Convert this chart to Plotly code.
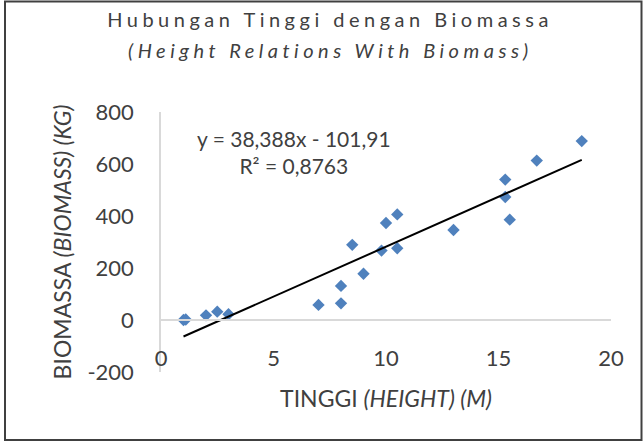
import plotly.graph_objects as go

# ---- data ----
height_m = [1.0, 1.1, 2.0, 2.5, 3.0, 7.0, 8.0, 8.0, 8.5, 9.0,
            9.8, 10.0, 10.5, 10.5, 13.0, 15.3, 15.3, 15.5, 16.7, 18.7]
biomass_kg = [0, 2, 18, 32, 22, 58, 64, 131, 289, 178,
              267, 373, 406, 276, 346, 540, 473, 386, 613, 688]
slope = 38.388
intercept = -101.91
r_squared = 0.8763
x_ticks = [0, 5, 10, 15, 20]
y_ticks = [-200, 0, 200, 400, 600, 800]
title_line1 = "Hubungan Tinggi dengan Biomassa"
title_line2 = "(Height Relations With Biomass)"

FONT = "Lato"
TXT = "#404040"

def fmt(v, nd):
    return f"{v:.{nd}f}".replace(".", ",")

x_line = [min(height_m), max(height_m)]
y_line = [slope * v + intercept for v in x_line]

fig = go.Figure()
fig.add_trace(go.Scatter(
    x=height_m, y=biomass_kg, mode="markers",
    marker=dict(symbol="diamond", size=9.5, color="#4F81BD"),
    showlegend=False, hoverinfo="x+y"))
fig.add_trace(go.Scatter(
    x=x_line, y=y_line, mode="lines",
    line=dict(color="#000000", width=2),
    showlegend=False, hoverinfo="skip"))

sign = "-" if intercept < 0 else "+"
eq_text = f"y = {fmt(slope, 3)}x {sign} {fmt(abs(intercept), 2)}<br>R² = {fmt(r_squared, 4)}"
fig.add_annotation(x=5.93, y=646, xref="x", yref="y", text=eq_text,
                   showarrow=False, font=dict(family=FONT, size=21, color=TXT),
                   xanchor="center", yanchor="middle", align="center")

LS = "letter-spacing:4.5px"
# second title line as an annotation just below the main title
fig.add_annotation(x=(330 - 161) / 450, y=(372 - 50) / 260, xref="paper", yref="paper",
                   text=f"<span style='{LS}'><i>{title_line2}</i></span>",
                   showarrow=False, xanchor="center", yanchor="middle",
                   font=dict(family=FONT, size=20, color=TXT))

fig.update_layout(
    width=644, height=444,
    margin=dict(l=161, r=33, t=112, b=72),
    paper_bgcolor="white", plot_bgcolor="white",
    font=dict(family=FONT, size=21, color=TXT),
    title=dict(
        text=f"<span style='{LS}'>{title_line1}</span>",
        x=330 / 644, xref="container", xanchor="center",
        y=1 - 20 / 444, yref="container", yanchor="middle",
        font=dict(family=FONT, size=20, color=TXT)),
    xaxis=dict(
        range=[0, 20], tickvals=x_ticks, ticktext=[str(v) for v in x_ticks],
        ticks="", showgrid=False, zeroline=False,
        showline=True, linecolor="#d9d9d9", linewidth=1.5,
        anchor="free", position=0.2, ticklabelstandoff=19,
        title=dict(text="TINGGI <i>(HEIGHT) (M)</i>", standoff=20,
                   font=dict(family=FONT, size=23, color=TXT)),
        tickfont=dict(family=FONT, size=22, color=TXT)),
    yaxis=dict(
        range=[-200, 800], tickvals=y_ticks, ticktext=[str(v) for v in y_ticks],
        ticks="", showgrid=False, zeroline=False,
        showline=True, linecolor="#d9d9d9", linewidth=1.5,
        ticklabelstandoff=21,
        title=dict(text="BIOMASSA <i>(BIOMASS) (KG)</i>", standoff=9,
                   font=dict(family=FONT, size=23, color=TXT)),
        tickfont=dict(family=FONT, size=22, color=TXT)),
    shapes=[dict(type="rect", xref="paper", yref="paper",
                 x0=(5 - 161) / 450, x1=(641.5 - 161) / 450,
                 y0=(372 - 440) / 260, y1=(372 - 1.5) / 260,
                 line=dict(color="#404040", width=2), fillcolor="rgba(0,0,0,0)",
                 layer="below")],
)

fig.write_html("out.html")
